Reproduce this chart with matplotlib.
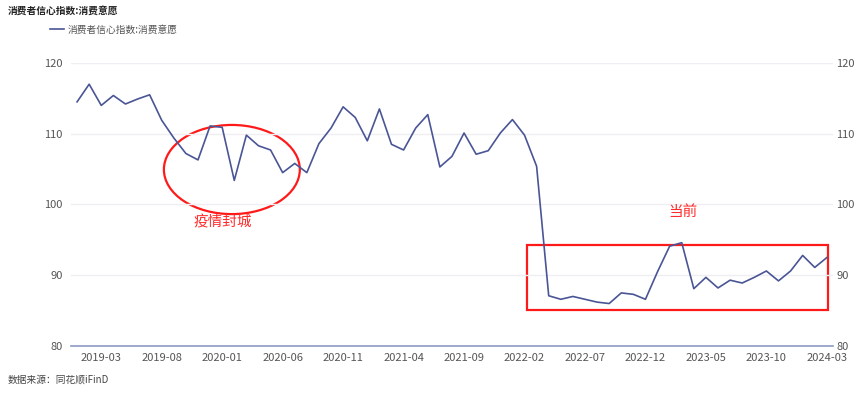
import numpy as np
import matplotlib
matplotlib.use("Agg")
import matplotlib.pyplot as plt
from matplotlib.patches import Ellipse, Rectangle
from matplotlib.transforms import ScaledTranslation

plt.rcParams['font.family'] = ['Noto Sans CJK SC', 'DejaVu Sans']

# monthly values, 2019-01 .. 2024-03
months = [f"{y}-{m:02d}" for y in range(2019, 2025) for m in range(1, 13)][:63]
willingness = [
    114.5, 117.0, 114.0, 115.4, 114.2, 114.9, 115.5, 111.9, 109.4, 107.2,
    106.3, 111.1, 110.9, 103.4, 109.8, 108.3, 107.7, 104.5, 105.8, 104.5,
    108.6, 110.8, 113.8, 112.3, 109.0, 113.5, 108.5, 107.7, 110.8, 112.7,
    105.3, 106.8, 110.1, 107.1, 107.6, 110.1, 112.0, 109.8, 105.4, 87.1,
    86.6, 87.0, 86.6, 86.2, 86.0, 87.5, 87.3, 86.6, 90.5, 94.1,
    94.6, 88.1, 89.7, 88.2, 89.3, 88.9, 89.7, 90.6, 89.2, 90.6,
    92.8, 91.1, 92.5,
]
series_name = "消费者信心指数:消费意愿"
y_ticks = [80, 90, 100, 110, 120]

fig = plt.figure(figsize=(8.64, 3.96), dpi=100)
ax = fig.add_axes([0.0822, 0.1263, 0.8818, 0.7147])

x = np.arange(len(months))
ax.plot(x, willingness, color="#4a5596", linewidth=1.2, label=series_name)

ax.set_xlim(-0.5, len(months) - 0.5)
ax.set_ylim(80, 120)
ax.set_xticks(x[2::5])
ax.set_xticklabels([months[i] for i in x[2::5]])
ax.set_yticks(y_ticks)
ax.tick_params(axis="both", length=0, labelsize=8, colors="#555555", pad=5)
ax.tick_params(axis="y", labelright=True, pad=6)
ax.grid(axis="y", color="#eeeef3", linewidth=1)
for side in ["top", "left", "right"]:
    ax.spines[side].set_visible(False)
ax.spines["bottom"].set_color("#8d9bc4")
ax.spines["bottom"].set_linewidth(1.2)

# right-hand labels sit closer to the plot than the left ones
fig.canvas.draw()
for t in ax.yaxis.get_major_ticks():
    t.label2.set_transform(t.label2.get_transform()
                           + ScaledTranslation(-0.05, 0, fig.dpi_scale_trans))

# annotations
ax.add_patch(Ellipse((12.8, 104.94), 11.24, 12.6, fill=False,
                     edgecolor="#ff1a1a", linewidth=1.6))
ax.add_patch(Rectangle((37.19, 85.06), 24.88, 9.24, fill=False,
                       edgecolor="#ff1a1a", linewidth=1.6))
ax.text(12.07, 97.44, "疫情封城", color="#ff2a2a", fontsize=10.5,
        ha="center", va="center")
ax.text(50.1, 99.0, "当前", color="#ff2a2a", fontsize=10.5,
        ha="center", va="center")

fig.text(0.009, 0.972, series_name, fontsize=7, fontweight="bold",
         color="#222222", va="center")
fig.legend(loc="upper left", bbox_to_anchor=(0.048, 0.96), frameon=False,
           fontsize=7, handlelength=1.4, handletextpad=0.4,
           labelcolor="#555555")
fig.text(0.009, 0.04, "数据来源：同花顺iFinD", fontsize=7, color="#444444",
         va="center")

fig.savefig("out.png", dpi=100)
